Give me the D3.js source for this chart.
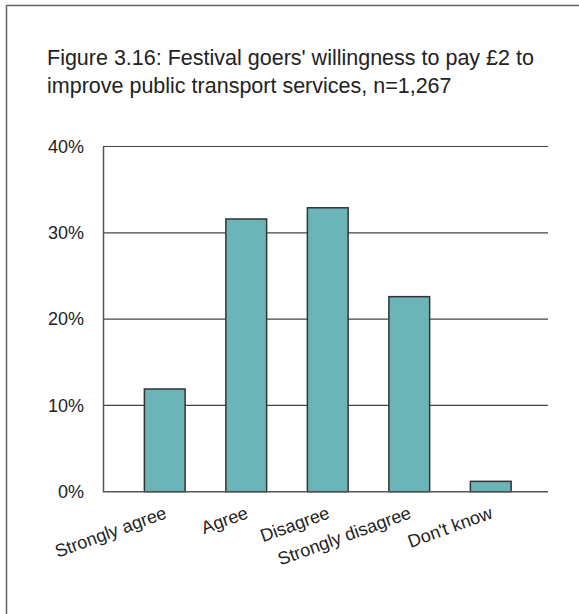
<!DOCTYPE html>
<html>
<head>
<meta charset="utf-8">
<script src="https://cdn.jsdelivr.net/npm/d3@7"></script>
<style>
  html, body { margin: 0; padding: 0; background: #fff; }
  text { font-family: "Liberation Sans", Arial, sans-serif; fill: #222; }
</style>
</head>
<body>
<svg id="chart" width="579" height="614"></svg>
<script>
const titleLines = ["Figure 3.16: Festival goers' willingness to pay £2 to",
                    "improve public transport services, n=1,267"];
const categories = ["Strongly agree", "Agree", "Disagree", "Strongly disagree", "Don't know"];
const values = [11.9, 31.6, 32.9, 22.6, 1.2];
const yTicks = [0, 10, 20, 30, 40];

const svg = d3.select("#chart");

// frame (only left & top visible in the reference)
svg.append("rect")
  .attr("x", 6.5).attr("y", 5.5)
  .attr("width", 620).attr("height", 660)
  .attr("fill", "none").attr("stroke", "#666").attr("stroke-width", 1.5);

// title
const t = svg.append("g");
titleLines.forEach((s, i) => {
  t.append("text")
    .attr("x", 47).attr("y", 65 + i * 28)
    .style("font-size", "20px")
    .text(s);
});
// fit title width to reference
const first = t.select("text").node();
const w = first.getComputedTextLength();
const fs = 20 * 487 / w;
t.selectAll("text").style("font-size", fs + "px");

const plotLeft = 103, plotRight = 548;
const y = d3.scaleLinear().domain([0, 40]).range([491.7, 146.5]);
const x = d3.scaleBand().domain(categories).range([124, 531.5]).paddingInner(0.5).paddingOuter(0.25);

// gridlines
svg.append("g").selectAll("line")
  .data(yTicks.filter(d => d > 0))
  .join("line")
  .attr("x1", plotLeft).attr("x2", plotRight)
  .attr("y1", d => y(d)).attr("y2", d => y(d))
  .attr("stroke", "#444").attr("stroke-width", 1.2);

// y axis
const yAxis = svg.append("g")
  .attr("transform", `translate(${plotLeft},0)`)
  .call(d3.axisLeft(y).tickValues(yTicks).tickSize(0).tickPadding(19).tickFormat(d => d + "%"));
yAxis.select(".domain").attr("stroke", "#555").attr("stroke-width", 1.5);
yAxis.selectAll("text").style("font-size", "18px").style("font-family", "Liberation Sans, Arial, sans-serif").attr("fill", "#222");

// bars
svg.append("g").selectAll("rect")
  .data(values)
  .join("rect")
  .attr("x", (d, i) => x(categories[i]))
  .attr("width", x.bandwidth())
  .attr("y", d => y(d))
  .attr("height", d => y(0) - y(d))
  .attr("fill", "#6bb5b9")
  .attr("stroke", "#333")
  .attr("stroke-width", 1.5);

// x axis baseline
svg.append("line")
  .attr("x1", plotLeft).attr("x2", plotRight)
  .attr("y1", y(0)).attr("y2", y(0))
  .attr("stroke", "#555").attr("stroke-width", 1.5);

// category labels, rotated
svg.append("g").selectAll("text")
  .data(categories)
  .join("text")
  .attr("text-anchor", "end")
  .style("font-size", "18px")
  .attr("transform", d => `translate(${x(d) + x.bandwidth() / 2 + 3},${y(0) + 26}) rotate(-20)`)
  .text(d => d);
</script>
</body>
</html>
